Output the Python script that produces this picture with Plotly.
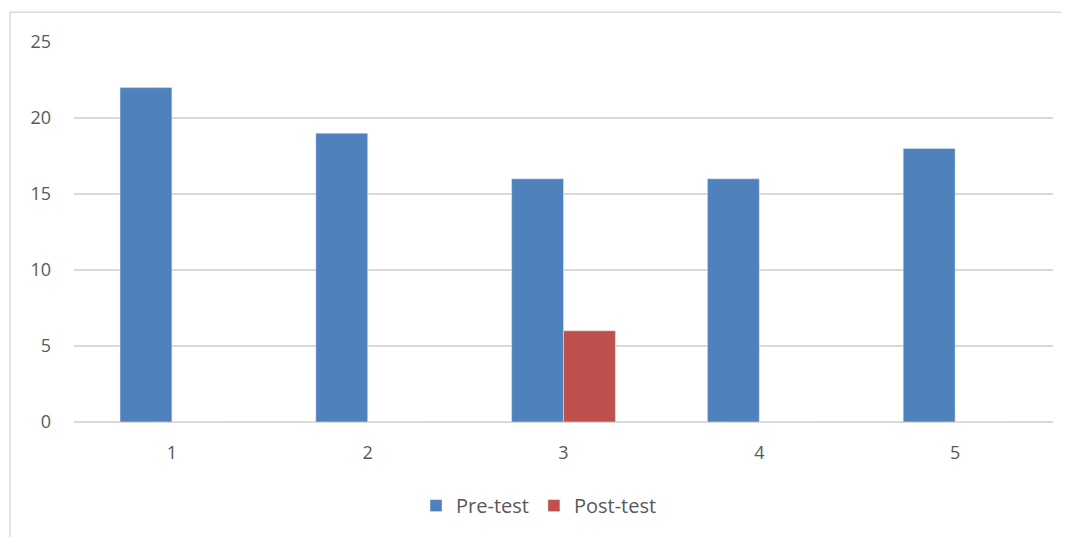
import plotly.graph_objects as go

categories = ["1", "2", "3", "4", "5"]
pre_test = [22, 19, 16, 16, 18]
post_test = [0, 0, 6, 0, 0]

fig = go.Figure()
fig.add_trace(go.Bar(x=categories, y=pre_test, name="Pre-test", marker_color="#4f81bd"))
fig.add_trace(go.Bar(x=categories, y=post_test, name="Post-test", marker_color="#c0504d"))

fig.update_layout(
    width=1061, height=529,
    margin=dict(l=66, r=16, t=34, b=113),
    paper_bgcolor="white", plot_bgcolor="white",
    barmode="group", bargap=0.47, bargroupgap=0,
    font=dict(family="Open Sans, Liberation Sans, sans-serif", size=18, color="#595959"),
    showlegend=True,
    legend=dict(orientation="h", x=0.475, xanchor="center", y=-0.22, yanchor="middle",
                font=dict(size=20, color="#595959"), itemwidth=30, traceorder="normal"),
    xaxis=dict(type="category", showgrid=False, showline=False, ticks="", ticklabelstandoff=18),
    yaxis=dict(range=[0, 25], dtick=5, showgrid=True, gridcolor="#d9d9d9", gridwidth=1.5,
               zeroline=True, zerolinecolor="#d9d9d9", zerolinewidth=1.5,
               showline=False, ticks="", ticklabelstandoff=22),
    shapes=[dict(type="rect", xref="paper", yref="paper",
                 x0=-0.0654, x1=1.03, y0=-0.35, y1=1.0785,
                 line=dict(color="#d9d9d9", width=1.5), fillcolor="rgba(0,0,0,0)", layer="below")],
)

fig.write_html("out.html")
